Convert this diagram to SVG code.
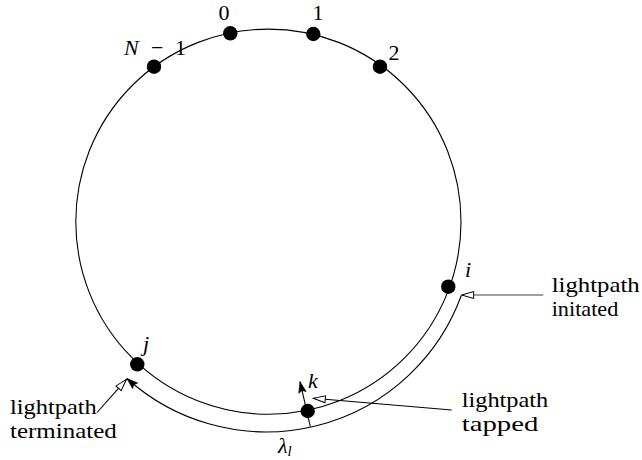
<svg xmlns="http://www.w3.org/2000/svg" width="642" height="460" viewBox="0 0 642 460">
<style>
.lbl{font-family:"Liberation Serif","Times New Roman","DejaVu Serif",serif;font-size:22px;fill:#000}
.it{font-style:italic}
.node{fill:#000}
.ring{fill:none;stroke:#000;stroke-width:1.1}
.conn{fill:none;stroke:#000;stroke-width:1.1}
</style>
<defs>
<marker id="open" markerUnits="userSpaceOnUse" viewBox="-1 -5 15 10" markerWidth="15" markerHeight="10" refX="12" refY="0" orient="auto">
<path d="M12,0 L0,-3.5 L0,3.5 Z" fill="#fff" stroke="#000" stroke-width="1"/>
</marker>
<marker id="solid" markerUnits="userSpaceOnUse" viewBox="-1 -5 14 10" markerWidth="14" markerHeight="10" refX="11" refY="0" orient="auto">
<path d="M11,0 L0,-3.8 L2,0 L0,3.8 Z" fill="#000" stroke="#000" stroke-width="0.6"/>
</marker>
</defs>
<circle class="ring" cx="268.4" cy="221.7" r="192.6"/>
<g id="connectors">
<path id="lightpath" class="conn" d="M461.5,295 A207.9,207.9 0 0 1 127,378.5" marker-end="url(#solid)"/>
<path id="tap" class="conn" d="M310.3,426.5 L300,381.7" marker-end="url(#solid)"/>
<path id="init-arrow" class="conn" style="stroke:#808080;stroke-width:1.6" d="M543.3,295 L461.7,295" marker-end="url(#open)"/>
<path id="tap-arrow" class="conn" d="M451.7,410 L313.3,398.3" marker-end="url(#open)"/>
<path id="term-arrow" class="conn" d="M97,412.5 L126.5,379.3" marker-end="url(#open)"/>
</g>
<g id="node-0"><circle class="node" cx="230.3" cy="33.3" r="7.2"/><text class="lbl" x="224" y="20" text-anchor="middle">0</text></g>
<g id="node-1"><circle class="node" cx="313.3" cy="34" r="7.2"/><text class="lbl" x="318" y="20" text-anchor="middle">1</text></g>
<g id="node-2"><circle class="node" cx="380" cy="66.7" r="7.2"/><text class="lbl" x="394" y="60" text-anchor="middle">2</text></g>
<g id="node-N-1"><circle class="node" cx="154" cy="66.7" r="7.2"/><text class="lbl" y="55"><tspan class="it" x="124">N</tspan><tspan x="151">−</tspan><tspan x="175">1</tspan></text></g>
<g id="node-i"><circle class="node" cx="448.3" cy="286.7" r="7.2"/><text class="lbl it" x="465" y="276.7">i</text></g>
<g id="node-j"><circle class="node" cx="137.3" cy="364.3" r="7.2"/><text class="lbl it" x="143" y="351">j</text></g>
<g id="node-k"><circle class="node" cx="307.7" cy="411" r="7.2"/><text class="lbl it" x="308" y="388.3">k</text></g>
<g id="label-lambda"><text class="lbl it" x="278" y="453">λ<tspan dy="3" style="font-size:15px">l</tspan></text></g>
<g id="label-initiated"><text class="lbl" x="551.7" y="291.5" textLength="88" lengthAdjust="spacingAndGlyphs">lightpath</text><text class="lbl" x="551.7" y="315.5" textLength="66.6" lengthAdjust="spacingAndGlyphs">initated</text></g>
<g id="label-tapped"><text class="lbl" x="461.7" y="406.5" textLength="86.6" lengthAdjust="spacingAndGlyphs">lightpath</text><text class="lbl" x="461.7" y="430.5" textLength="76.6" lengthAdjust="spacingAndGlyphs">tapped</text></g>
<g id="label-terminated"><text class="lbl" x="10" y="413.5" textLength="86.7" lengthAdjust="spacingAndGlyphs">lightpath</text><text class="lbl" x="10" y="437.5" textLength="106.7" lengthAdjust="spacingAndGlyphs">terminated</text></g>
</svg>
